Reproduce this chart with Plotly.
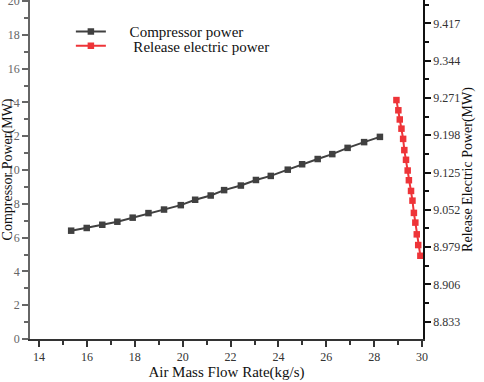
import plotly.graph_objects as go

# Compressor power (left axis)
comp_flow = [15.34, 15.99, 16.64, 17.27, 17.91, 18.57, 19.22, 19.92, 20.52, 21.17, 21.73,
             22.43, 23.06, 23.68, 24.39, 24.99, 25.64, 26.25, 26.89, 27.58, 28.24]
comp_power = [6.41, 6.57, 6.76, 6.94, 7.18, 7.45, 7.66, 7.92, 8.24, 8.49, 8.81,
              9.08, 9.41, 9.65, 10.02, 10.34, 10.65, 10.94, 11.31, 11.65, 11.96]

# Release electric power (right axis)
rel_flow = [28.93, 29.01, 29.07, 29.14, 29.21, 29.26, 29.33, 29.40, 29.45, 29.54, 29.60,
            29.66, 29.72, 29.78, 29.84, 29.93]
rel_power = [9.267, 9.247, 9.229, 9.211, 9.191, 9.169, 9.150, 9.129, 9.110, 9.089, 9.070,
             9.046, 9.027, 9.004, 8.983, 8.962]

x_ticks = [14, 16, 18, 20, 22, 24, 26, 28, 30]
left_ticks = [0, 2, 4, 6, 8, 10, 12, 14, 16, 18, 20]
right_ticks = [8.833, 8.906, 8.979, 9.052, 9.125, 9.198, 9.271, 9.344, 9.417]

FONT = "Liberation Serif"
DARK = "#404040"
RED = "#ee3438"

fig = go.Figure()
fig.add_trace(go.Scatter(
    x=comp_flow, y=comp_power, name="     Compressor power", mode="lines+markers",
    line=dict(color=DARK, width=2), marker=dict(symbol="square", size=6.5, color=DARK),
    legend="legend",
))
fig.add_trace(go.Scatter(
    x=rel_flow, y=rel_power, name="      Release electric power", mode="lines+markers", yaxis="y2",
    line=dict(color=RED, width=2), marker=dict(symbol="square", size=6.5, color=RED),
    legend="legend2",
))

leg_common = dict(xanchor="left", yanchor="middle", bgcolor="rgba(0,0,0,0)",
                  font=dict(family=FONT, size=15, color="#111111"), itemwidth=30)

fig.update_layout(
    width=484, height=382,
    margin=dict(l=30, r=61, t=0, b=43),
    paper_bgcolor="white", plot_bgcolor="white",
    font=dict(family=FONT, size=12, color="#555555"),
    showlegend=True,
    legend=dict(x=0.104, y=0.906, **leg_common),
    legend2=dict(x=0.104, y=0.864, **leg_common),
    xaxis=dict(
        range=[13.62, 30.04], tickvals=x_ticks, ticks="outside", ticklen=6, tickwidth=1.5,
        tickcolor="#333333", showline=True, linecolor="#333333", linewidth=1.5,
        showgrid=False, zeroline=False, automargin=False,
        minor=dict(ticks="outside", dtick=1, tick0=13, ticklen=4, tickcolor="#333333"),
        title=dict(text="Air Mass Flow Rate(kg/s)", font=dict(family=FONT, size=15, color="#111111"),
                   standoff=2),
        tickfont=dict(family=FONT, size=12, color="#333333"),
    ),
    yaxis=dict(
        range=[0, 20.06], tickvals=left_ticks, ticks="outside", ticklen=6, tickwidth=1.5,
        tickcolor="#666666", showline=True, linecolor="#666666", linewidth=1.5,
        showgrid=False, zeroline=False, automargin=False, ticklabeloverflow="allow",
        minor=dict(ticks="outside", dtick=1, ticklen=4, tickcolor="#666666"),
        title=dict(text="Compressor Power(MW)", font=dict(family=FONT, size=14, color="#111111"),
                   standoff=1),
        tickfont=dict(family=FONT, size=12, color="#666666"),
    ),
    yaxis2=dict(
        range=[8.799, 9.463], overlaying="y", side="right",
        tick0=8.833, dtick=0.073, tickformat=".3f", ticks="outside", ticklen=6, tickwidth=1.5,
        tickcolor="#111111", showline=True, linecolor="#111111", linewidth=1.5,
        showgrid=False, zeroline=False, automargin=False,
        minor=dict(ticks="outside", dtick=0.0365, tick0=8.833, ticklen=4, tickcolor="#111111"),
        title=dict(text="Release Electric Power(MW)", font=dict(family=FONT, size=14, color="#111111"),
                   standoff=3),
        tickfont=dict(family=FONT, size=12, color="#333333"),
    ),
)

fig.write_html(
    "out.html",
    config={"displayModeBar": False},
    post_script="document.body.style.margin='0';document.body.style.padding='0';"
                "document.body.style.overflow='hidden';",
)
